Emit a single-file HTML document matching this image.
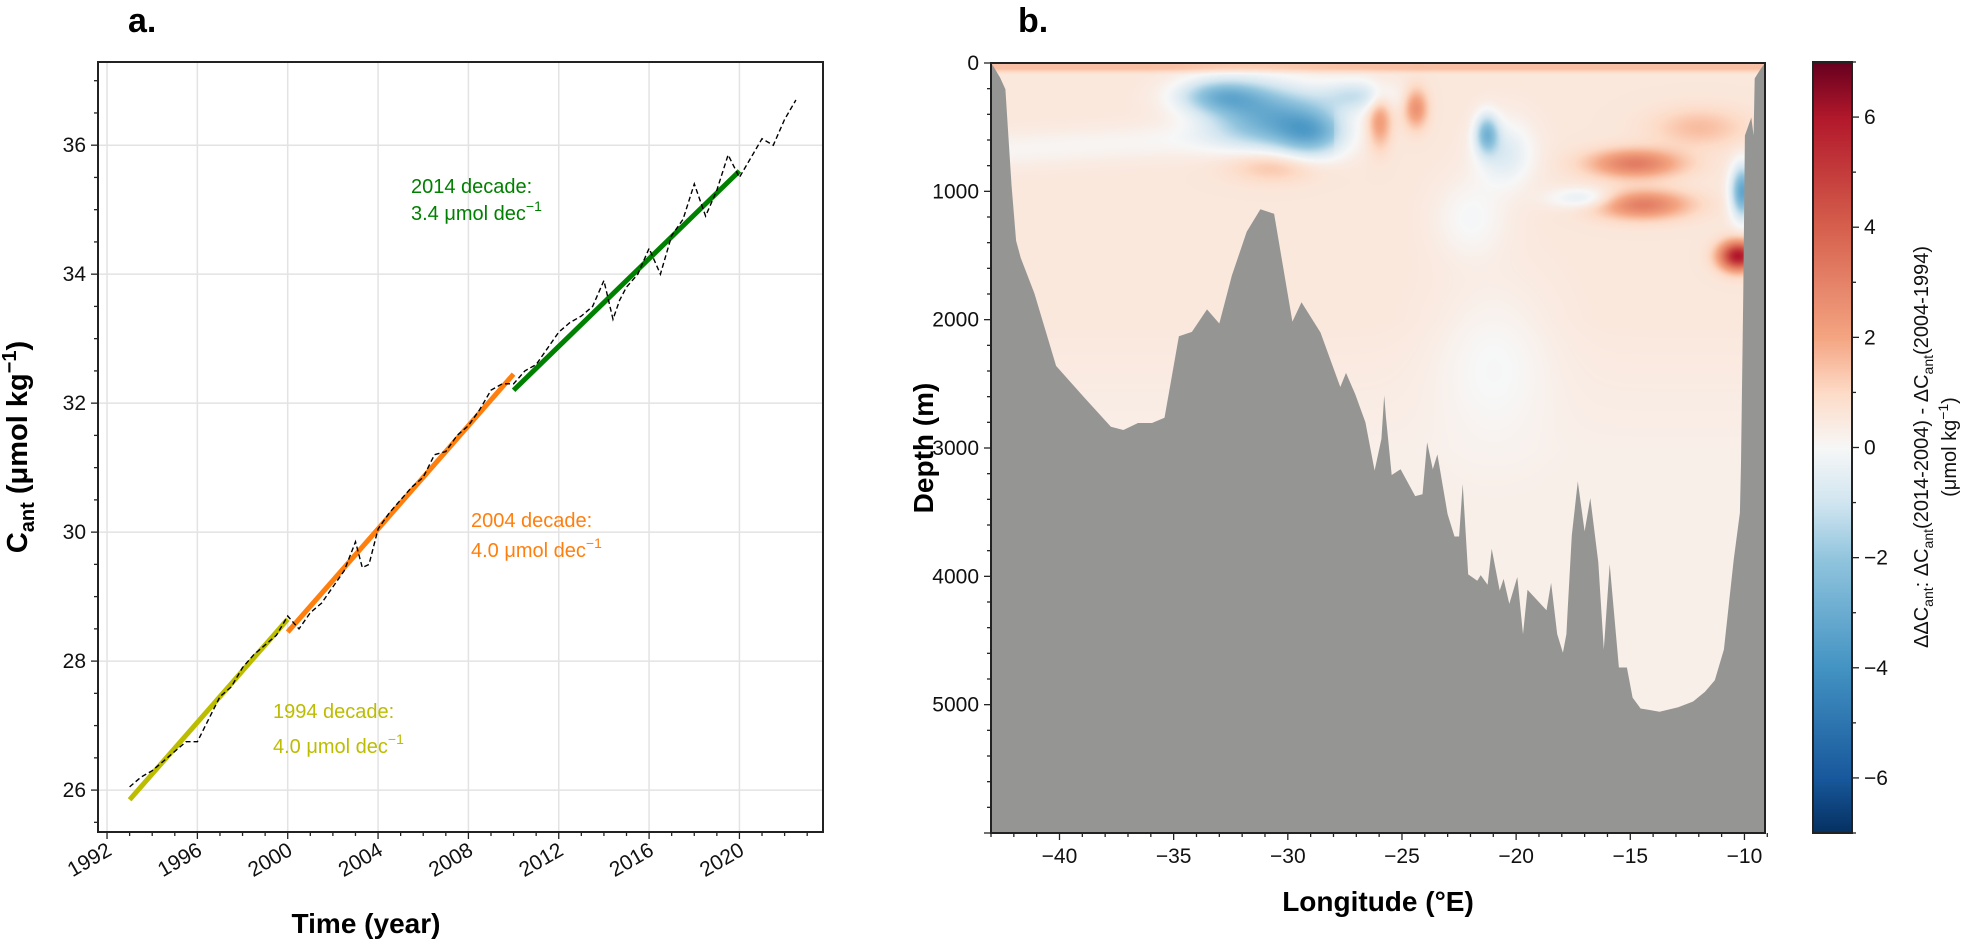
<!DOCTYPE html>
<html><head><meta charset="utf-8">
<style>
body{margin:0;background:#fff;}
#wrap{position:relative;width:1971px;height:943px;overflow:hidden;font-family:"Liberation Sans",sans-serif;}
canvas{position:absolute;left:0;top:0;}
svg{position:absolute;left:0;top:0;}
</style></head>
<body>
<div id="wrap">
<canvas id="heat" width="1971" height="943"></canvas>
<svg id="svg" width="1971" height="943"></svg>
</div>
<script>
// ---- Panel a data ----
const seriesYears = [1993,1993.5,1994,1994.5,1995,1995.5,1996,1996.5,1997,1997.5,1998,1998.5,1999,1999.5,2000,2000.5,2001,2001.5,2002,2002.5,2003,2003.3,2003.6,2004,2004.5,2005,2005.5,2006,2006.5,2007,2007.5,2008,2008.5,2009,2009.5,2010,2010.5,2011,2011.5,2012,2012.5,2013,2013.5,2014,2014.4,2014.7,2015,2015.5,2016,2016.5,2017,2017.5,2018,2018.5,2019,2019.5,2020,2020.5,2021,2021.5,2022,2022.5];
const seriesValues = [26.05,26.2,26.3,26.45,26.6,26.75,26.75,27.1,27.45,27.6,27.9,28.1,28.25,28.4,28.7,28.5,28.75,28.9,29.15,29.4,29.85,29.45,29.5,30.05,30.3,30.5,30.7,30.85,31.2,31.25,31.5,31.65,31.9,32.2,32.3,32.3,32.5,32.6,32.85,33.1,33.25,33.35,33.5,33.9,33.3,33.6,33.8,34.0,34.4,34.0,34.6,34.85,35.4,34.9,35.3,35.85,35.5,35.8,36.1,36.0,36.4,36.7];
const fitNames = ["1994 decade","2004 decade","2014 decade"];
const fitStart = [1993.0,2000.0,2010.0];
const fitEnd = [2000.0,2010.0,2020.0];
const fitStartVal = [25.85,28.45,32.2];
const fitEndVal = [28.65,32.45,35.6];
const fitRates = ["4.0","4.0","3.4"];
const yTicksA = [26,28,30,32,34,36];
const xTicksA = [1992,1996,2000,2004,2008,2012,2016,2020];

// ---- Panel b data ----
const bathyLon = [-43,-42.9,-42.6,-42.37,-42.1,-41.9,-41.7,-41.1,-40.15,-38.9,-37.75,-37.2,-36.56,-35.95,-35.4,-34.77,-34.2,-33.54,-33.0,-32.45,-31.8,-31.2,-30.6,-29.8,-29.4,-28.57,-27.7,-27.45,-27.05,-26.6,-26.2,-25.9,-25.78,-25.7,-25.45,-25.06,-24.42,-24.1,-23.9,-23.65,-23.45,-23.0,-22.7,-22.5,-22.34,-22.1,-21.7,-21.55,-21.25,-21.07,-20.72,-20.55,-20.3,-19.95,-19.7,-19.5,-18.67,-18.47,-18.2,-17.95,-17.8,-17.75,-17.56,-17.3,-17.0,-16.75,-16.4,-16.16,-15.9,-15.5,-15.15,-14.9,-14.55,-13.72,-12.9,-12.25,-11.73,-11.3,-10.9,-10.47,-10.2,-10.15,-10.05,-9.98,-9.7,-9.6,-9.55,-9.3,-9.1];
const bathyDepth = [0,25,114,205,950,1385,1517,1795,2360,2610,2835,2860,2805,2805,2765,2130,2095,1920,2030,1655,1315,1140,1175,2015,1865,2100,2525,2415,2580,2800,3175,2930,2590,2765,3210,3165,3375,3360,2955,3165,3050,3515,3690,3690,3280,3985,4035,3990,4065,3785,4110,4020,4215,4005,4450,4105,4265,4050,4450,4595,4450,4285,3680,3260,3650,3390,3890,4570,3905,4710,4710,4945,5030,5055,5020,4975,4900,4810,4570,3870,3505,3120,1780,565,425,565,120,50,0];
// anomaly blobs: lon, depth(m), value, lon-width, depth-width
const blobLon =   [-31,-33,-29,-27,-21.3,-20.5,-26,-24.4,-14.8,-14.5,-10.3,-10.1,-21,-17,-30.5,-22,-12];
const blobDepth = [400,250,550,250,550,700,450,350,780,1100,1500,1000,2300,1050,800,1200,500];
const blobValue = [-3.2,-2.5,-2.5,-1.5,-2.8,-1.2,1.8,2.0,2.6,2.6,5.5,-3.8,-0.5,-1.2,1.0,-0.6,1.0];
const blobLonW =  [2.5,1.8,1.5,1.5,0.5,1.2,0.5,0.5,2.0,2.0,0.8,0.5,2.5,1.5,2.0,1.5,2.0];
const blobDepW =  [230,130,200,120,150,250,200,150,110,110,110,200,600,80,120,300,150];
const cbTicks = [-6,-4,-2,0,2,4,6];
const lonTicks = [-40,-35,-30,-25,-20,-15,-10];
const depthTicks = [0,1000,2000,3000,4000,5000];

const NS="http://www.w3.org/2000/svg";
const svg=document.getElementById('svg');
function el(tag,attrs,parent,text){const e=document.createElementNS(NS,tag);for(const k in attrs)e.setAttribute(k,attrs[k]);if(text!==undefined)e.textContent=text;(parent||svg).appendChild(e);return e;}

// Panel a axes
const A={l:98,r:823,t:62,b:832,x0:1991.6,x1:2023.7,y0:25.35,y1:37.29};
const ax=v=>A.l+(v-A.x0)/(A.x1-A.x0)*(A.r-A.l);
const ay=v=>A.b-(v-A.y0)/(A.y1-A.y0)*(A.b-A.t);
const ga=el('g',{});  
for(const t of yTicksA){const g=el('line',{x1:A.l,x2:A.r,y1:ay(t),y2:ay(t),stroke:'#e3e3e3','stroke-width':1.5},ga);}
for(const t of xTicksA){const g=el('line',{x1:ax(t),x2:ax(t),y1:A.t,y2:A.b,stroke:'#e3e3e3','stroke-width':1.5},ga);}
for(let v=25.5;v<37.3;v+=0.5){const m=Math.abs(v-Math.round(v/2)*2)<0.01;el('line',{x1:A.l-(m?7:4),x2:A.l,y1:ay(v),y2:ay(v),stroke:'#222','stroke-width':1.3},ga);}
for(const t of yTicksA){const tx=el('text',{x:A.l-12,y:ay(t)+7,'text-anchor':'end','font-size':21,fill:'#111'},ga,String(t));}
for(let y=1992;y<=2023;y++){const m=(y%4===0);el('line',{x1:ax(y),x2:ax(y),y1:A.b,y2:A.b+(m?7:4),stroke:'#222','stroke-width':1.3},ga);}
for(const t of xTicksA){const tx=el('text',{x:0,y:0,'text-anchor':'end','font-size':21,fill:'#111',transform:`translate(${ax(t)+6},${A.b+22}) rotate(-30)`},ga,String(t));}
// fits
const fitColors=['#bcbd00','#ff7f0e','#008000'];
fitStart.forEach((s,i)=>{const l=el('line',{x1:ax(s),y1:ay(fitStartVal[i]),x2:ax(fitEnd[i]),y2:ay(fitEndVal[i]),stroke:fitColors[i],'stroke-width':5},ga);});
let d='';seriesYears.forEach((y,i)=>{d+=(i?'L':'M')+ax(y).toFixed(1)+','+ay(seriesValues[i]).toFixed(1);});
const sp=el('path',{d:d,fill:'none',stroke:'#000','stroke-width':1.4,'stroke-dasharray':'5,3'},ga);

el('rect',{x:A.l,y:A.t,width:A.r-A.l,height:A.b-A.t,fill:'none',stroke:'#222','stroke-width':2},ga);
// annotations
const annPos=[[273,718,753],[471,527,557],[411,193,220]];
fitNames.forEach((n,i)=>{const p=annPos[i];
 const t1=el('text',{x:p[0],y:p[1],'font-size':20,fill:fitColors[i]},ga,n+':');
 const t2=el('text',{x:p[0],y:p[2],'font-size':20,fill:fitColors[i]},ga);
 t2.textContent=fitRates[i]+' μmol dec';el('tspan',{dy:-9,'font-size':14},t2,'−1');});
const la=el('text',{x:0,y:0,'font-size':29,'font-weight':'bold',fill:'#000','text-anchor':'middle',transform:'translate(27,447) rotate(-90)'},ga);

la.textContent='C';el('tspan',{dy:7,'font-size':20},la,'ant');el('tspan',{dy:-7},la,' (μmol kg');el('tspan',{dy:-11,'font-size':20},la,'−1');el('tspan',{dy:11},la,')');
const xa=el('text',{x:366,y:933,'font-size':28,'font-weight':'bold','text-anchor':'middle',fill:'#000'},ga,'Time (year)');
const pa=el('text',{x:128,y:32,'font-size':34,'font-weight':'bold',fill:'#000'},ga,'a.');

// Panel b
const B={l:991,r:1765,t:63,b:833,x0:-43.0,x1:-9.1,d0:0,d1:6000};
const bx=v=>B.l+(v-B.x0)/(B.x1-B.x0)*(B.r-B.l);
const by=v=>B.t+(v-B.d0)/(B.d1-B.d0)*(B.b-B.t);
const stops=[[-7,[5,48,97]],[-6,[24,88,156]],[-4,[67,147,195]],[-2,[146,197,222]],[-1,[209,229,240]],[0,[247,247,247]],[1,[253,219,199]],[2,[244,165,130]],[4,[214,96,77]],[6,[178,24,43]],[7,[103,0,31]]];
function cmap(v){v=Math.max(-7,Math.min(7,v));for(let i=0;i<stops.length-1;i++){const a=stops[i],b=stops[i+1];if(v<=b[0]){const f=(v-a[0])/(b[0]-a[0]);return a[1].map((c,k)=>Math.round(c+(b[1][k]-c)*f));}}return stops[stops.length-1][1];}
function field(lon,dep){let v=dep<2000?0.55:0.55-Math.min(0.25,(dep-2000)/4000);
 if(dep<40)v=1.5; else if(dep<90) v=1.5-(dep-40)/50*1.0;
 v-=0.45*Math.exp(-Math.pow((dep-650+(lon+40)*10)/130,2))*(lon<-28?1:0);
 for(let i=0;i<blobLon.length;i++){v+=blobValue[i]*Math.exp(-Math.pow((lon-blobLon[i])/blobLonW[i],2)-Math.pow((dep-blobDepth[i])/blobDepW[i],2));}
 return v;}
const ctx=document.getElementById('heat').getContext('2d');
const W=B.r-B.l,H=B.b-B.t;const img=ctx.createImageData(W,H);
for(let j=0;j<H;j++){const dep=j/H*6000;for(let i=0;i<W;i++){const lon=B.x0+i/W*(B.x1-B.x0);const c=cmap(field(lon,dep));const k=(j*W+i)*4;img.data[k]=c[0];img.data[k+1]=c[1];img.data[k+2]=c[2];img.data[k+3]=255;}}
ctx.putImageData(img,B.l,B.t);
// colorbar
const C={l:1813,r:1852,t:62,b:833};
const cy=v=>C.b-(v+7)/14*(C.b-C.t);
for(let y=C.t;y<C.b;y++){const v=7-(y-C.t)/(C.b-C.t)*14;const c=cmap(v);ctx.fillStyle=`rgb(${c[0]},${c[1]},${c[2]})`;ctx.fillRect(C.l,y,C.r-C.l,1);}
const gb=el('g',{});
let bd='M'+bx(bathyLon[0])+','+by(6000);bathyLon.forEach((l,i)=>{bd+='L'+bx(l).toFixed(1)+','+by(bathyDepth[i]).toFixed(1);});bd+='L'+B.r+','+by(bathyDepth[bathyDepth.length-1])+'L'+B.r+','+B.b+'L'+B.l+','+B.b+'Z';
const bp=el('path',{d:bd,fill:'#959694'},gb);
el('rect',{x:B.l,y:B.t,width:W,height:H,fill:'none',stroke:'#222','stroke-width':2},gb);
for(let v=0;v<=6000;v+=200){const m=v%1000===0;el('line',{x1:B.l-(m?7:4),x2:B.l,y1:by(v),y2:by(v),stroke:'#222','stroke-width':1.3},gb);}
for(const t of depthTicks){const tx=el('text',{x:B.l-12,y:by(t)+7,'text-anchor':'end','font-size':21,fill:'#111'},gb,String(t));}
for(let v=-43;v<=-9;v++){const m=v%5===0;el('line',{x1:bx(v),x2:bx(v),y1:B.b,y2:B.b+(m?7:4),stroke:'#222','stroke-width':1.3},gb);}
for(const t of lonTicks){const tx=el('text',{x:bx(t),y:B.b+30,'text-anchor':'middle','font-size':21,fill:'#111'},gb,String(t).replace('-','−'));}
const dl=el('text',{x:0,y:0,'font-size':28,'font-weight':'bold','text-anchor':'middle',fill:'#000',transform:'translate(933,448) rotate(-90)'},gb,'Depth (m)');
const ll=el('text',{x:1378,y:911,'font-size':28,'font-weight':'bold','text-anchor':'middle',fill:'#000'},gb,'Longitude (°E)');
const pb=el('text',{x:1018,y:32,'font-size':34,'font-weight':'bold',fill:'#000'},gb,'b.');
const gc=el('g',{});
el('rect',{x:C.l,y:C.t,width:C.r-C.l,height:C.b-C.t,fill:'none',stroke:'#222','stroke-width':2},gc);
for(let v=-7;v<=7;v++){const m=v%2===0;el('line',{x1:C.r,x2:C.r+(m?7:4),y1:cy(v),y2:cy(v),stroke:'#222','stroke-width':1.3},gc);}
for(const t of cbTicks){const tx=el('text',{x:C.r+12,y:cy(t)+7,'font-size':21,fill:'#111'},gc,String(t).replace('-','−'));}
const c1=el('text',{x:0,y:0,'font-size':20,'text-anchor':'middle',fill:'#111',transform:'translate(1928,447) rotate(-90)'},gc);

c1.textContent='ΔΔC';el('tspan',{dy:5,'font-size':14},c1,'ant');el('tspan',{dy:-5},c1,': ΔC');el('tspan',{dy:5,'font-size':14},c1,'ant');el('tspan',{dy:-5},c1,'(2014-2004) - ΔC');el('tspan',{dy:5,'font-size':14},c1,'ant');el('tspan',{dy:-5},c1,'(2004-1994)');
const c2=el('text',{x:0,y:0,'font-size':20,'text-anchor':'middle',fill:'#111',transform:'translate(1956,447) rotate(-90)'},gc);

c2.textContent='(μmol kg';el('tspan',{dy:-8,'font-size':14},c2,'−1');el('tspan',{dy:8},c2,')');
</script>
</body></html>
